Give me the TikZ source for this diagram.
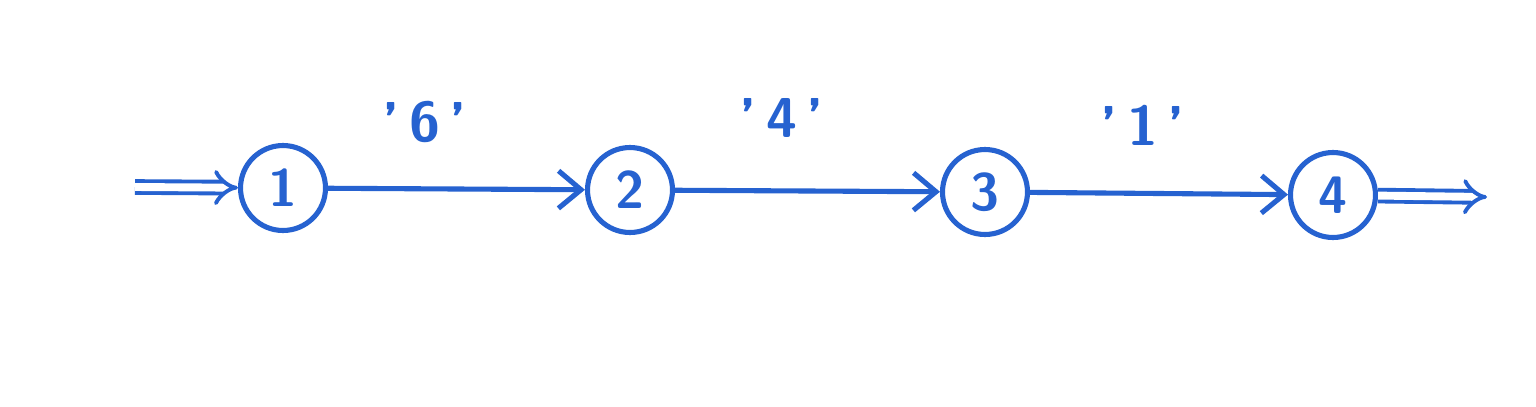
\documentclass[tikz,border=0pt]{standalone}
\usetikzlibrary{arrows.meta}
\definecolor{pen}{RGB}{38,98,208}
\begin{document}
\begin{tikzpicture}[x=0.02cm,y=-0.02cm,
  state/.style={circle,draw=pen,line width=2.9pt,minimum size=1.7cm,inner sep=0pt,text=pen,font=\sffamily\bfseries\fontsize{30}{34}\selectfont},
  edge/.style={draw=pen,line width=2.9pt,-{Straight Barb[length=0.45cm,width=0.75cm,line width=2.9pt]}},
  dbl/.style={draw=pen,line width=2.2pt,double=white,double distance=4.5pt,-{Implies[length=0.35cm,width=0.65cm]}},
  lbl/.style={text=pen,font=\sffamily\bfseries\fontsize{32}{36}\selectfont}]
\useasboundingbox[fill=white] (0,0) rectangle (1536,406);
\node[state] (n1) at (283,188) {1};
\node[state] (n2) at (630,190) {2};
\node[state] (n3) at (985,192) {3};
\node[state] (n4) at (1333,195) {4};
\coordinate (in) at (135,187);
\coordinate (out) at (1487,197);
\draw[dbl] (in) -- (n1);
\draw[edge] (n1) -- (n2);
\draw[edge] (n2) -- (n3);
\draw[edge] (n3) -- (n4);
\draw[dbl] (n4) -- (out);
\node[lbl] (l1) at (425,122) {'\,6\,'};
\node[lbl] (l2) at (782,118) {'\,4\,'};
\node[lbl] (l3) at (1143,125) {'\,1\,'};
\end{tikzpicture}
\end{document}
